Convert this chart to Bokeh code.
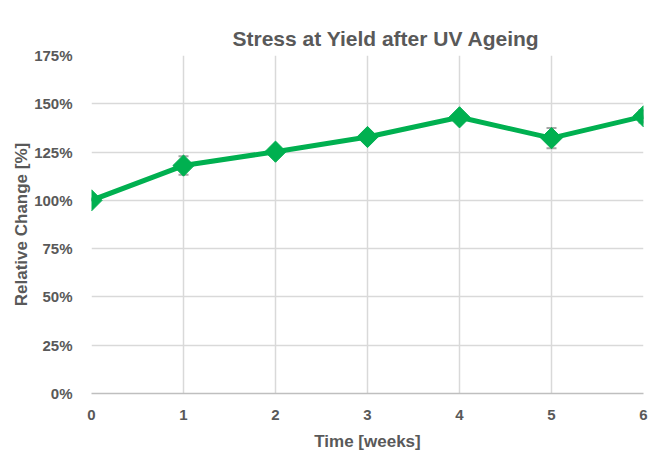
import math
from bokeh.plotting import figure
from bokeh.models import ColumnDataSource, Whisker, TeeHead, FixedTicker, PrintfTickFormatter, Range1d
from bokeh.embed import file_html
from bokeh.resources import INLINE

weeks = [0, 1, 2, 3, 4, 5, 6]
change = [100.0, 118.0, 125.2, 132.8, 143.0, 132.2, 143.5]
err = [0.0, 4.8, 2.0, 2.0, 2.0, 5.2, 3.2]

y_ticks = [0, 25, 50, 75, 100, 125, 150, 175]
x_ticks = [0, 1, 2, 3, 4, 5, 6]

GREEN = "#00B050"
TXT = "#595959"
FONT = "Liberation Sans"

src = ColumnDataSource(dict(
    x=weeks, y=change,
    lo=[c - e for c, e in zip(change, err)],
    hi=[c + e for c, e in zip(change, err)],
))

p = figure(width=659, height=453, output_backend="svg", toolbar_location=None,
           x_range=Range1d(0, 6), y_range=Range1d(0, 175),
           min_border_left=91, min_border_right=16, min_border_top=55, min_border_bottom=56,
           title="Stress at Yield after UV Ageing")

p.title.align = "left"
p.title.offset = 141
p.title.text_font = FONT
p.title.text_font_size = "21px"
p.title.text_font_style = "bold"
p.title.text_color = TXT
p.title.vertical_align = "middle"

p.outline_line_color = None
p.background_fill_color = "white"
p.border_fill_color = "white"

p.xgrid.grid_line_color = "#D9D9D9"
p.ygrid.grid_line_color = "#D9D9D9"
p.xgrid.grid_line_width = 1.5
p.ygrid.grid_line_width = 1.5

p.xaxis.ticker = FixedTicker(ticks=x_ticks)
p.yaxis.ticker = FixedTicker(ticks=y_ticks)
p.yaxis.formatter = PrintfTickFormatter(format="%d%%")

for ax in (p.xaxis[0], p.yaxis[0]):
    ax.major_tick_line_color = None
    ax.minor_tick_line_color = None
    ax.major_label_text_font = FONT
    ax.major_label_text_font_style = "bold"
    ax.major_label_text_font_size = "15px"
    ax.major_label_text_color = TXT
    ax.axis_label_text_font = FONT
    ax.axis_label_text_font_style = "bold"
    ax.axis_label_text_font_size = "17px"
    ax.axis_label_text_color = TXT

p.xaxis.axis_line_color = "#BFBFBF"
p.xaxis.axis_line_width = 1.5
p.yaxis.axis_line_color = None
p.xaxis.axis_label = "Time [weeks]"
p.yaxis.axis_label = "Relative Change [%]"
p.xaxis.major_label_standoff = 10
p.yaxis.major_label_standoff = 13
p.xaxis.axis_label_standoff = 9
p.yaxis.axis_label_standoff = 0

w = Whisker(source=src, base="x", lower="lo", upper="hi",
            line_color="#A6A6A6", line_width=1.5,
            upper_head=TeeHead(size=10, line_color="#A6A6A6", line_width=2),
            lower_head=TeeHead(size=10, line_color="#A6A6A6", line_width=2),
            level="underlay")
p.add_layout(w)

p.line("x", "y", source=src, line_color=GREEN, line_width=5)
p.scatter("x", "y", source=src, marker="square", size=15, angle=math.pi / 4,
          fill_color=GREEN, line_color=GREEN)

open("out.html", "w").write(file_html(p, INLINE))
